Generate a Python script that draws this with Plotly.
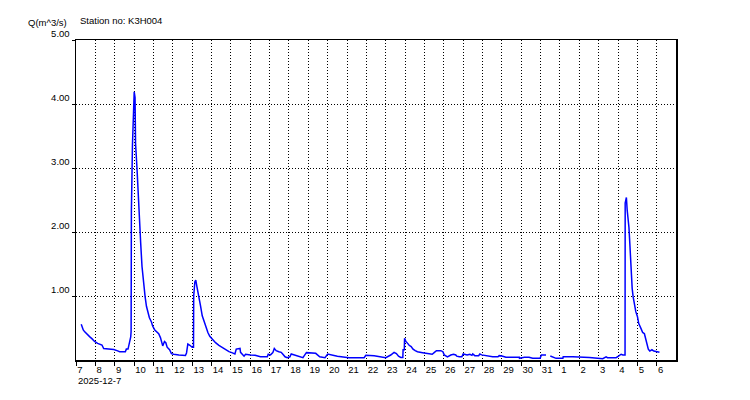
import plotly.graph_objects as go

# ---------------- data ----------------
times = [
    "2025-12-07 06:30", "2025-12-07 07:30", "2025-12-07 09:00", "2025-12-07 10:50",
    "2025-12-07 13:40", "2025-12-07 16:50", "2025-12-07 20:00", "2025-12-07 23:00",
    "2025-12-08 02:50", "2025-12-08 08:10", "2025-12-08 10:20", "2025-12-08 18:30",
    "2025-12-08 22:50", "2025-12-09 02:50", "2025-12-09 06:10", "2025-12-09 13:10",
    "2025-12-09 14:24", "2025-12-09 16:30", "2025-12-09 17:20", "2025-12-09 18:30",
    "2025-12-09 19:50", "2025-12-09 20:20", "2025-12-09 20:40", "2025-12-09 22:00",
    "2025-12-09 23:20", "2025-12-10 00:10", "2025-12-10 01:12", "2025-12-10 01:50",
    "2025-12-10 03:36", "2025-12-10 05:50", "2025-12-10 07:00", "2025-12-10 08:10",
    "2025-12-10 09:50", "2025-12-10 10:50", "2025-12-10 12:30", "2025-12-10 13:40",
    "2025-12-10 15:20", "2025-12-10 17:20", "2025-12-10 19:00", "2025-12-10 21:40",
    "2025-12-10 23:00", "2025-12-11 01:40", "2025-12-11 04:30", "2025-12-11 06:30",
    "2025-12-11 08:40", "2025-12-11 10:20", "2025-12-11 11:30", "2025-12-11 13:40",
    "2025-12-11 15:20", "2025-12-11 17:00", "2025-12-11 20:00", "2025-12-11 22:20",
    "2025-12-12 01:10", "2025-12-12 07:30", "2025-12-12 13:40", "2025-12-12 15:40",
    "2025-12-12 17:00", "2025-12-12 18:40", "2025-12-12 21:10", "2025-12-13 00:00",
    "2025-12-13 01:40", "2025-12-13 01:55", "2025-12-13 03:20", "2025-12-13 04:30",
    "2025-12-13 05:50", "2025-12-13 07:00", "2025-12-13 08:40", "2025-12-13 10:20",
    "2025-12-13 12:30", "2025-12-13 14:50", "2025-12-13 17:00", "2025-12-13 19:30",
    "2025-12-13 21:50", "2025-12-14 02:10", "2025-12-14 05:00", "2025-12-14 09:10",
    "2025-12-14 13:10", "2025-12-14 17:20", "2025-12-14 21:40", "2025-12-15 01:10",
    "2025-12-15 05:00", "2025-12-15 06:40", "2025-12-15 11:20", "2025-12-15 12:00",
    "2025-12-15 14:10", "2025-12-15 16:20", "2025-12-15 18:10", "2025-12-16 00:00",
    "2025-12-16 00:30", "2025-12-16 06:00", "2025-12-16 12:40", "2025-12-16 21:10",
    "2025-12-16 22:20", "2025-12-17 01:10", "2025-12-17 04:00", "2025-12-17 05:50",
    "2025-12-17 08:10", "2025-12-17 11:30", "2025-12-17 14:24", "2025-12-17 16:30",
    "2025-12-17 19:10", "2025-12-17 21:50", "2025-12-18 01:10", "2025-12-18 02:50",
    "2025-12-18 07:10", "2025-12-18 12:30", "2025-12-18 17:20", "2025-12-18 19:40",
    "2025-12-18 21:40", "2025-12-19 09:10", "2025-12-19 14:10", "2025-12-19 20:40",
    "2025-12-19 22:50", "2025-12-20 00:00", "2025-12-20 12:00", "2025-12-21 02:24",
    "2025-12-21 21:10", "2025-12-21 23:20", "2025-12-22 09:36", "2025-12-22 15:36",
    "2025-12-23 00:00", "2025-12-23 06:10", "2025-12-23 10:20", "2025-12-23 13:12",
    "2025-12-23 15:50", "2025-12-23 18:40", "2025-12-23 21:10", "2025-12-23 21:30",
    "2025-12-23 23:00", "2025-12-23 23:20", "2025-12-24 01:00", "2025-12-24 03:10",
    "2025-12-24 05:00", "2025-12-24 07:30", "2025-12-24 09:50", "2025-12-24 12:30",
    "2025-12-24 15:20", "2025-12-24 21:40", "2025-12-25 05:50", "2025-12-25 09:36",
    "2025-12-25 12:00", "2025-12-25 14:50", "2025-12-25 20:20", "2025-12-25 22:50",
    "2025-12-26 00:30", "2025-12-26 04:30", "2025-12-26 08:40", "2025-12-26 12:00",
    "2025-12-26 14:50", "2025-12-26 16:00", "2025-12-26 19:10", "2025-12-26 22:20",
    "2025-12-27 00:00", "2025-12-27 04:50", "2025-12-27 08:20", "2025-12-27 10:50",
    "2025-12-27 11:50", "2025-12-27 14:24", "2025-12-27 19:10", "2025-12-27 20:40",
    "2025-12-27 22:50", "2025-12-28 06:10", "2025-12-28 12:30", "2025-12-28 19:10",
    "2025-12-28 20:40", "2025-12-29 00:00", "2025-12-29 05:00", "2025-12-29 21:40",
    "2025-12-29 21:50", "2025-12-30 03:50", "2025-12-30 09:36", "2025-12-30 14:10",
    "2025-12-30 23:30", "2025-12-30 23:50", "2025-12-31 01:00", "2025-12-31 06:40",
    "2025-12-31 09:00", "2025-12-31 12:00", "2025-12-31 15:36", "2025-12-31 19:10",
    "2026-01-01 03:36", "2026-01-01 04:00", "2026-01-01 15:50", "2026-01-02 08:20",
    "2026-01-02 12:30", "2026-01-03 05:00", "2026-01-03 09:10", "2026-01-03 10:50",
    "2026-01-03 21:40", "2026-01-04 00:30", "2026-01-04 03:50", "2026-01-04 06:00",
    "2026-01-04 08:40", "2026-01-04 08:50", "2026-01-04 10:20", "2026-01-04 11:20",
    "2026-01-04 13:30", "2026-01-04 14:40", "2026-01-04 15:20", "2026-01-04 16:30",
    "2026-01-04 17:30", "2026-01-04 18:40", "2026-01-04 19:50", "2026-01-04 22:00",
    "2026-01-05 00:00", "2026-01-05 01:40", "2026-01-05 04:30", "2026-01-05 06:30",
    "2026-01-05 08:40", "2026-01-05 11:50", "2026-01-05 13:30", "2026-01-05 15:20",
    "2026-01-05 18:00", "2026-01-05 20:20", "2026-01-05 22:50", "2026-01-06 01:10",
    "2026-01-06 03:20",
]

flow = [
    0.56, 0.52, 0.47, 0.44,
    0.40, 0.365, 0.33, 0.29,
    0.26, 0.234, 0.18, 0.17,
    0.165, 0.146, 0.13, 0.13,
    0.17, 0.17, 0.22, 0.31,
    0.36, 0.45, 2.33, 3.36,
    4.19, 4.19, 4.10, 3.38,
    3.00, 2.31, 2.04, 1.83,
    1.46, 1.32, 1.10, 0.99,
    0.84, 0.74, 0.66, 0.59,
    0.53, 0.47, 0.44, 0.41,
    0.35, 0.26, 0.22, 0.29,
    0.27, 0.20, 0.16, 0.10,
    0.09, 0.08, 0.08, 0.07,
    0.11, 0.25, 0.23, 0.20,
    0.20, 1.00, 1.22, 1.25,
    1.15, 1.08, 0.97, 0.85,
    0.69, 0.59, 0.50, 0.43,
    0.37, 0.30, 0.27, 0.23,
    0.20, 0.16, 0.13, 0.115,
    0.094, 0.17, 0.18, 0.12,
    0.08, 0.06, 0.09, 0.09,
    0.08, 0.073, 0.05, 0.05,
    0.09, 0.08, 0.115, 0.18,
    0.146, 0.13, 0.12, 0.09,
    0.05, 0.036, 0.05, 0.094,
    0.073, 0.05, 0.036, 0.08,
    0.115, 0.104, 0.05, 0.036,
    0.08, 0.094, 0.06, 0.036,
    0.036, 0.073, 0.065, 0.05,
    0.036, 0.078, 0.12, 0.10,
    0.06, 0.04, 0.04, 0.16,
    0.16, 0.34, 0.29, 0.26,
    0.23, 0.21, 0.17, 0.146,
    0.13, 0.115, 0.104, 0.09,
    0.115, 0.146, 0.146, 0.13,
    0.08, 0.05, 0.078, 0.09,
    0.078, 0.06, 0.05, 0.05,
    0.094, 0.078, 0.09, 0.073,
    0.094, 0.068, 0.068, 0.094,
    0.08, 0.063, 0.05, 0.05,
    0.068, 0.063, 0.042, 0.042,
    0.026, 0.042, 0.042, 0.026,
    0.026, 0.042, 0.078, 0.078,
    None, 0.063, 0.05, 0.026,
    0.026, 0.05, 0.05, 0.05,
    0.04, 0.02, 0.05, 0.036,
    0.036, 0.06, 0.09, 0.08,
    0.08, 2.45, 2.54, 2.34,
    2.07, 1.80, 1.60, 1.25,
    1.12, 0.99, 0.875, 0.755,
    0.68, 0.57, 0.49, 0.43,
    0.41, 0.22, 0.17, 0.14,
    0.16, 0.14, 0.13, 0.12,
    0.12,
]

y_tick_vals = [1, 2, 3, 4, 5]
y_tick_text = ["1.00", "2.00", "3.00", "4.00", "5.00"]
x_start = "2025-12-07 00:00"
x_end = "2026-01-06 23:50"
y_title = "Q(m^3/s)"
station_label = "Station no: K3H004"
date_label = "2025-12-7"

FONT = "Liberation Sans, Arial, sans-serif"

fig = go.Figure()
fig.add_trace(go.Scatter(
    x=times, y=flow, mode="lines",
    line=dict(color="#0000FF", width=1.5),
    connectgaps=False, hoverinfo="skip", showlegend=False,
))

# page body has an 8px margin, so the figure is shrunk and offset by it
fig.update_layout(
    width=742, height=392,
    margin=dict(l=68, r=74, t=32, b=40),
    paper_bgcolor="white", plot_bgcolor="white",
    font=dict(family=FONT, size=9.5, color="black"),
    showlegend=False,
    xaxis=dict(
        type="date", range=[x_start, x_end],
        tick0="2025-12-07", dtick=86400000, tickformat="%-d", tickangle=0,
        ticks="outside", ticklen=4, tickcolor="black", tickwidth=1,
        ticklabelposition="outside right",
        showgrid=True, gridcolor="black", gridwidth=1, griddash="1px,2px",
        showline=True, linecolor="black", linewidth=1.5, mirror=True,
        zeroline=False, fixedrange=True,
        tickfont=dict(family=FONT, size=9.5, color="black"),
    ),
    yaxis=dict(
        range=[0, 5], tickvals=y_tick_vals, ticktext=y_tick_text,
        ticks="outside", ticklen=3, tickcolor="black", tickwidth=1,
        ticklabelshift=-6,
        showgrid=True, gridcolor="black", gridwidth=1, griddash="1px,2px",
        showline=True, linecolor="black", linewidth=1.5, mirror=True,
        zeroline=False, fixedrange=True,
        tickfont=dict(family=FONT, size=9.5, color="black"),
    ),
    annotations=[
        dict(text=y_title, xref="paper", yref="paper", x=-0.0117, y=1.056,
             xanchor="right", yanchor="middle", showarrow=False,
             font=dict(family=FONT, size=9.5, color="black")),
        dict(text=station_label, xref="paper", yref="paper", x=0.0033, y=1.0625,
             xanchor="left", yanchor="middle", showarrow=False,
             font=dict(family=FONT, size=9.5, color="black")),
        dict(text=date_label, xref="paper", yref="paper", x=0.0, y=-0.0625,
             xanchor="left", yanchor="middle", showarrow=False,
             font=dict(family=FONT, size=9.5, color="black")),
    ],
)

fig.write_html("out.html", config={"displayModeBar": False, "staticPlot": True})
